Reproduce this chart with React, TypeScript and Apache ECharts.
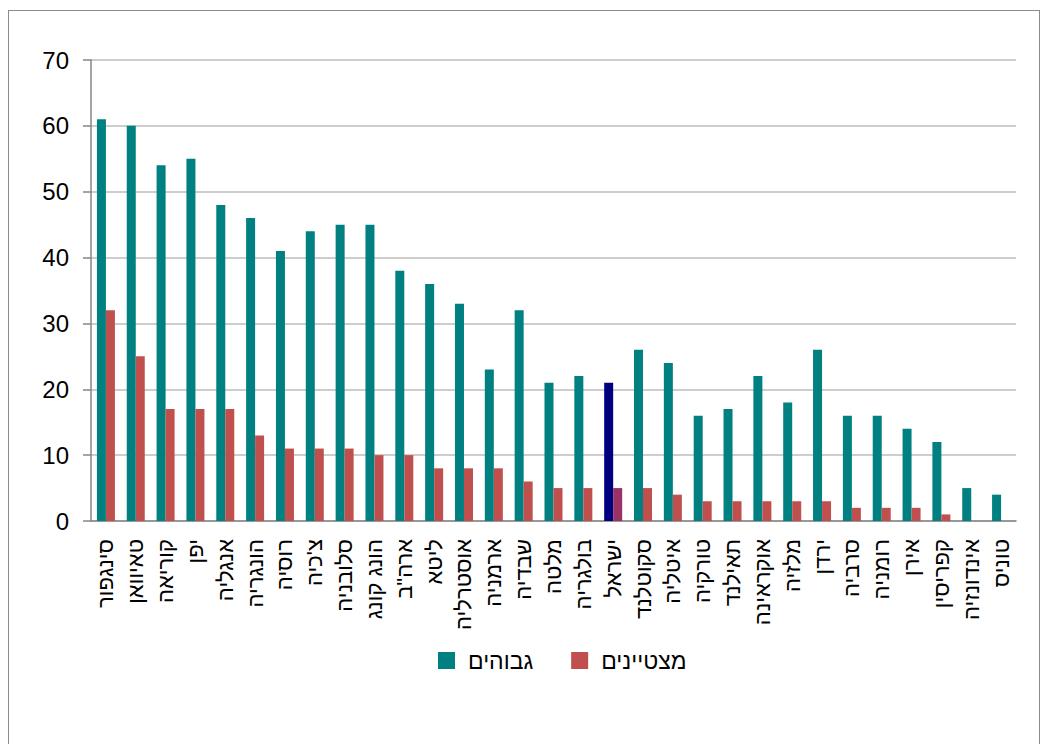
import React, { useEffect, useRef } from "react";
import * as echarts from "echarts";

const categories = [
  "סינגפור", "טאיוואן", "קוריאה", "יפן", "אנגליה", "הונגריה", "רוסיה", "צ'כיה",
  "סלובניה", "הונג קונג", "ארה\"ב", "ליטא", "אוסטרליה", "ארמניה", "שבדיה", "מלטה",
  "בולגריה", "ישראל", "סקוטלנד", "איטליה", "טורקיה", "תאילנד", "אוקראינה", "מלזיה",
  "ירדן", "סרביה", "רומניה", "אירן", "קפריסין", "אינדונזיה", "טוניס",
];
const high = [61, 60, 54, 55, 48, 46, 41, 44, 45, 45, 38, 36, 33, 23, 32, 21, 22, 21, 26, 24, 16, 17, 22, 18, 26, 16, 16, 14, 12, 5, 4];
const excellent = [32, 25, 17, 17, 17, 13, 11, 11, 11, 10, 10, 8, 8, 8, 6, 5, 5, 5, 5, 4, 3, 3, 3, 3, 3, 2, 2, 2, 1, 0, 0];
const seriesNames = ["גבוהים", "מצטיינים"];
const highlight = "ישראל";

export default function App() {
  const ref = useRef<HTMLDivElement>(null);
  useEffect(() => {
    if (!ref.current) return;
    const chart = echarts.init(ref.current, undefined, { renderer: "svg" });
    const font = "'Liberation Sans', Arial, sans-serif";
    chart.setOption({
      animation: false,
      textStyle: { fontFamily: font },
      grid: { left: 82, top: 49, width: 925, height: 461 },
      legend: {
        data: seriesNames,
        left: 424,
        top: 633,
        icon: "rect",
        itemWidth: 17,
        itemHeight: 17,
        itemGap: 38,
        textStyle: { fontSize: 23, color: "#000", fontFamily: font, padding: [0, 0, 0, 8] },
      },
      xAxis: {
        type: "category",
        data: categories,
        axisLine: { lineStyle: { color: "#868686", width: 1.5 } },
        axisTick: { show: false },
        axisLabel: { rotate: 90, fontSize: 22, color: "#000", margin: 18, interval: 0, fontFamily: font },
      },
      yAxis: {
        type: "value",
        min: 0,
        max: 70,
        interval: 10,
        axisLine: { show: true, lineStyle: { color: "#868686", width: 1.5 } },
        axisTick: { show: true, length: 8, lineStyle: { color: "#868686", width: 1.5 } },
        splitLine: { lineStyle: { color: "#bdbdbd", width: 1.5 } },
        axisLabel: { fontSize: 24, color: "#000", margin: 22, fontFamily: font },
      },
      series: [
        {
          name: seriesNames[0],
          type: "bar",
          barWidth: 9,
          barGap: "0%",
          itemStyle: { color: "#008080" },
          data: high.map((v, i) =>
            categories[i] === highlight ? { value: v, itemStyle: { color: "#000080" } } : v
          ),
        },
        {
          name: seriesNames[1],
          type: "bar",
          barWidth: 9,
          barGap: "0%",
          itemStyle: { color: "#C0504D" },
          data: excellent.map((v, i) =>
            categories[i] === highlight ? { value: v, itemStyle: { color: "#993366" } } : v
          ),
        },
      ],
    });
    return () => chart.dispose();
  }, []);
  return (
    <div
      style={{
        position: "absolute",
        left: 8,
        top: 10,
        width: 1030,
        height: 760,
        border: "1px solid #8c8c8c",
        background: "#fff",
      }}
    >
      <div ref={ref} style={{ width: 1030, height: 740 }} />
    </div>
  );
}
